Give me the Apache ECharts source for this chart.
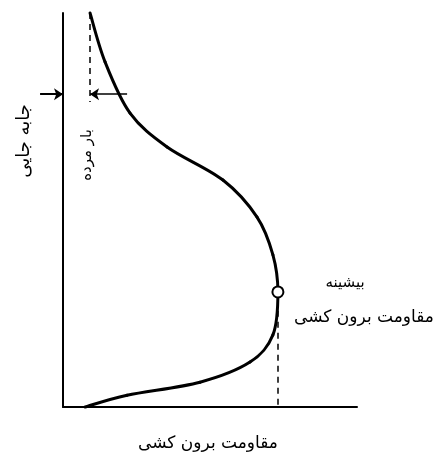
<!DOCTYPE html>
<html>
<head>
<meta charset="utf-8">
<script src="https://cdn.jsdelivr.net/npm/echarts@6/dist/echarts.min.js"></script>
<style>
html, body { margin: 0; padding: 0; background: #fff; }
#main { width: 437px; height: 455px; }
</style>
</head>
<body>
<div id="main"></div>
<script>
// منحنی بار - جابه جایی (واحد دلخواه)
var curveX = [9.2, 14.3, 22.8, 35.4, 54.4, 66.0, 71.4, 73.1, 71.4, 63.6, 46.6, 21.8, 7.5];
var curveY = [100, 87.6, 74.6, 66.0, 57.6, 48.2, 38.6, 29.2, 18.3, 11.4, 6.3, 3.0, 0];
var peakPoint = [73.1, 29.2];
var deadLoadY = 79.4;

var axisTitleX = 'مقاومت برون کشی';
var axisTitleY = 'جابه جایی';
var deadLoadText = 'بار مرده';
var peakText = ['بیشینه', 'مقاومت برون کشی'];

var curveData = curveX.map(function (x, i) { return [x, curveY[i]]; });

var myChart = echarts.init(document.getElementById('main'));
var font = '"DejaVu Sans", sans-serif';

// منحنی نرم (Catmull-Rom) روی مختصات محورها
function renderCurve(params, api) {
    var p = curveData.map(function (d) { return api.coord(d); });
    var n = p.length;
    var children = [];
    for (var i = 0; i < n - 1; i++) {
        var p0 = p[Math.max(i - 1, 0)], p1 = p[i], p2 = p[i + 1], p3 = p[Math.min(i + 2, n - 1)];
        children.push({
            type: 'bezierCurve',
            shape: {
                x1: p1[0], y1: p1[1], x2: p2[0], y2: p2[1],
                cpx1: p1[0] + (p2[0] - p0[0]) / 6, cpy1: p1[1] + (p2[1] - p0[1]) / 6,
                cpx2: p2[0] - (p3[0] - p1[0]) / 6, cpy2: p2[1] - (p3[1] - p1[1]) / 6
            },
            style: { stroke: '#000', lineWidth: 3, fill: null, lineCap: 'round' }
        });
    }
    return { type: 'group', children: children };
}

option = {
    backgroundColor: '#fff',
    animation: false,
    grid: { left: 63, top: 13, width: 294, height: 394 },
    xAxis: {
        type: 'value', min: 0, max: 100,
        axisLine: { lineStyle: { color: '#000', width: 2 } },
        axisTick: { show: false }, axisLabel: { show: false }, splitLine: { show: false }
    },
    yAxis: {
        type: 'value', min: 0, max: 100,
        axisLine: { show: true, lineStyle: { color: '#000', width: 2 } },
        axisTick: { show: false }, axisLabel: { show: false }, splitLine: { show: false }
    },
    series: [{
        type: 'custom',
        renderItem: renderCurve,
        data: [curveData[0]],
        clip: false,
        silent: true,
        z: 3
    }, {
        // خطوط راهنما و پیکان ها
        type: 'lines',
        coordinateSystem: 'cartesian2d',
        polyline: false,
        clip: false,
        lineStyle: { color: '#000', width: 1.5, opacity: 1 },
        data: [{
            coords: [[curveX[0], 100], [curveX[0], deadLoadY - 2]],
            lineStyle: { type: [6, 5] },
            symbol: ['none', 'none']
        }, {
            coords: [[21.8, deadLoadY], [curveX[0], deadLoadY]],
            symbol: ['none', 'arrow'], symbolSize: 9
        }, {
            coords: [[-7.8, deadLoadY], [0, deadLoadY]],
            lineStyle: { width: 2 },
            symbol: ['none', 'arrow'], symbolSize: 9
        }, {
            coords: [[peakPoint[0], peakPoint[1] - 2], [peakPoint[0], 0]],
            lineStyle: { type: [6, 5] },
            symbol: ['none', 'none']
        }],
        z: 2
    }, {
        type: 'scatter',
        data: [peakPoint],
        symbol: 'circle',
        symbolSize: 11,
        itemStyle: { color: '#fff', borderColor: '#000', borderWidth: 2, opacity: 1 },
        z: 5
    }],
    graphic: [{
        type: 'text', x: 24, y: 141, rotation: Math.PI / 2,
        style: { text: axisTitleY, font: '18px ' + font, fill: '#000', align: 'center', verticalAlign: 'middle' }
    }, {
        type: 'text', x: 87, y: 155, rotation: Math.PI / 2,
        style: { text: deadLoadText, font: '15px ' + font, fill: '#000', align: 'center', verticalAlign: 'middle' }
    }, {
        type: 'text', x: 345, y: 283,
        style: { text: peakText[0], font: '15px ' + font, fill: '#000', align: 'center', verticalAlign: 'middle' }
    }, {
        type: 'text', x: 364, y: 318,
        style: { text: peakText[1], font: '17px ' + font, fill: '#000', align: 'center', verticalAlign: 'middle' }
    }, {
        type: 'text', x: 208, y: 444,
        style: { text: axisTitleX, font: '17px ' + font, fill: '#000', align: 'center', verticalAlign: 'middle' }
    }]
};

myChart.setOption(option);

window.onresize = function () {
    myChart.resize();
};
</script>
</body>
</html>
